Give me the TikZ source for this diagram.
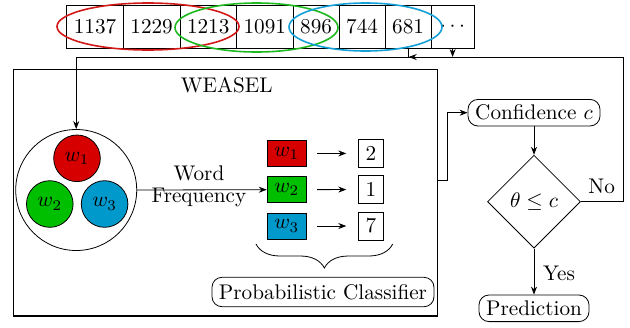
\RequirePackage{fix-cm}
\documentclass[tikz,border=0pt]{standalone}
\usetikzlibrary{shapes.geometric,decorations.pathreplacing,arrows.meta,calc}
\definecolor{wred}{RGB}{214,0,0}
\definecolor{wgreen}{RGB}{0,190,0}
\definecolor{wblue}{RGB}{0,153,204}
\definecolor{ered}{RGB}{210,25,25}
\definecolor{egreen}{RGB}{30,185,30}
\definecolor{eblue}{RGB}{20,160,215}
\begin{document}
\begin{tikzpicture}[x=0.5pt,y=-0.5pt,
  font=\fontsize{10.6pt}{12.7pt}\selectfont,
  >={Stealth[length=4pt,width=3pt]},
  cell/.style={draw,minimum height=21.5pt,inner sep=0pt,outer sep=0pt,anchor=west},
  four/.style={cell,minimum width=28.3pt},
  three/.style={cell,minimum width=23pt},
  win/.style={ellipse,draw,line width=0.8pt,inner sep=0pt},
  wcirc/.style={circle,draw,minimum size=23.3pt,inner sep=0pt},
  wbox/.style={draw,minimum width=19.5pt,minimum height=13pt,inner sep=0pt},
  nbox/.style={draw,minimum width=12.5pt,minimum height=14pt,inner sep=0pt},
  rbox/.style={draw,rounded corners=5pt,inner sep=0pt,minimum height=13.3pt},
]
\useasboundingbox (0,0) rectangle (630,327);
% time series
\node[four] (c1) at (66.7,26.5) {1137};
\node[four] (c2) at (c1.east) {1229};
\node[four] (c3) at (c2.east) {1213};
\node[four] (c4) at (c3.east) {1091};
\node[three] (c5) at (c4.east) {896};
\node[three] (c6) at (c5.east) {744};
\node[three] (c7) at (c6.east) {681};
\node[cell,minimum width=21.5pt] (c8) at (c7.east) {$\cdots$};
% windows
\node[win,draw=ered,minimum width=91pt,minimum height=23.5pt] (e1) at (148,26.5) {};
\node[win,draw=egreen,minimum width=81.5pt,minimum height=24.5pt] (e2) at (256.5,27.5) {};
\node[win,draw=eblue,minimum width=76.5pt,minimum height=24pt] (e3) at (365.5,27) {};
% WEASEL box
\node[draw,line width=0.8pt,minimum width=212pt,minimum height=123.3pt,inner sep=0pt] (weasel) at (225.3,192.6) {};
\node (wlabel) at (226.7,85) {WEASEL};
% words
\node[circle,draw,minimum size=60.5pt,inner sep=0pt] (big) at (76.2,190) {};
\node[wcirc,fill=wred] (w1) at (77,158.3) {$w_1$};
\node[wcirc,fill=wgreen] (w2) at (49.8,204) {$w_2$};
\node[wcirc,fill=wblue] (w3) at (104.6,204) {$w_3$};
% histogram
\node[wbox,fill=wred] (b1) at (286.7,153.7) {$w_1$};
\node[wbox,fill=wgreen] (b2) at (286.7,189.7) {$w_2$};
\node[wbox,fill=wblue] (b3) at (286.7,226) {$w_3$};
\node[nbox] (n1) at (370.8,153.3) {2};
\node[nbox] (n2) at (370.8,189.5) {1};
\node[nbox] (n3) at (370.8,226) {7};
\foreach \i in {1,2,3}{\draw[->,shorten <=5.3pt,shorten >=5.8pt] (b\i) -- (n\i);}
\draw[->] (big.east) -- (b2.west) node[midway,align=center,xshift=-1.5pt,yshift=1.8pt] (wf) {Word\\[-2pt]Frequency};
% brace
\coordinate (bl) at (256,244);
\coordinate (br) at (392.7,244);
\draw[decorate,decoration={brace,mirror,amplitude=12pt}] (bl) -- (br);
\node[rbox,minimum width=111pt,minimum height=14.7pt] (pc) at (323,292) {Probabilistic Classifier};
% decision
\node[rbox,minimum width=66pt] (conf) at (534,112.7) {Confidence $c$};
\node[diamond,draw,minimum width=46.5pt,minimum height=46.5pt,inner sep=0pt] (dia) at (534,201.7) {$\theta\leq c$};
\node[rbox,minimum width=55pt] (pred) at (534,308.3) {Prediction};
\draw[->] ([yshift=6.3pt]weasel.east) -- ++(9,0) |- (conf.west);
\draw[->] (conf.south) -- (dia.north);
\draw[->] (dia.south) -- (pred.north) node[midway,right,xshift=1pt,yshift=-1pt] (yes) {Yes};
\node (no) at (601.7,186.7) {No};
% feedback loop
\coordinate (tr) at (623,57);
\coordinate (tl) at (76.2,57);
\draw[->] (dia.east) -| (tr) -- (tl) -- (big.north);
\coordinate (j7) at (c7.south |- tl);
\draw (c7.south) -- (j7);
\draw[->] ([xshift=3pt]j7) -- ([xshift=0.3pt]j7);
\draw[->] (c8.south) -- (c8.south |- tl);
\end{tikzpicture}
\end{document}
